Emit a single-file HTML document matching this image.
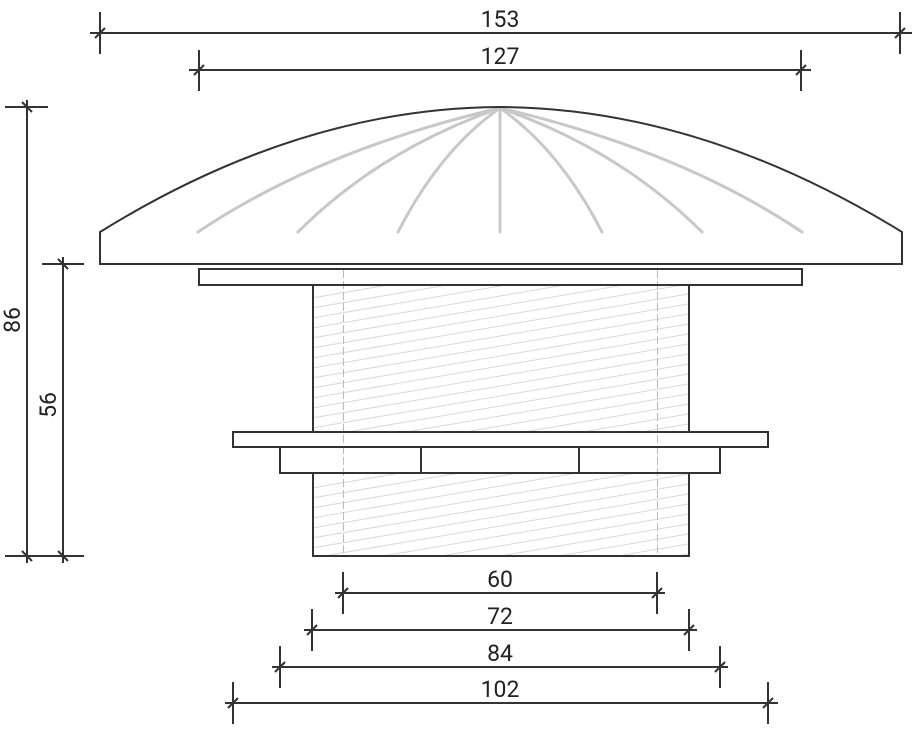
<!DOCTYPE html>
<html><head><meta charset="utf-8"><style>html,body{margin:0;padding:0;background:#fff}svg{display:block}</style></head>
<body>
<svg width="922" height="734" viewBox="0 0 922 734" xmlns="http://www.w3.org/2000/svg" font-family="Roboto, 'Liberation Sans', sans-serif">
<defs>
<clipPath id="b1"><rect x="314" y="286" width="374" height="146"/></clipPath>
<clipPath id="b2"><rect x="314" y="474" width="374" height="82"/></clipPath>
<g id="hatch">
</g>
</defs>
<g stroke="#d8d8d8" stroke-width="1" clip-path="url(#b1)">
<path d="M300 300 L700 232 M300 310 L700 242 M300 320 L700 252 M300 330 L700 262 M300 340 L700 272 M300 350 L700 282 M300 360 L700 292 M300 370 L700 302 M300 380 L700 312 M300 390 L700 322 M300 400 L700 332 M300 410 L700 342 M300 420 L700 352 M300 430 L700 362 M300 440 L700 372 M300 450 L700 382 M300 460 L700 392 M300 470 L700 402 M300 480 L700 412 M300 490 L700 422 M300 500 L700 432"/>
</g>
<g stroke="#d8d8d8" stroke-width="1" clip-path="url(#b2)">
<path d="M300 490 L700 422 M300 500 L700 432 M300 510 L700 442 M300 520 L700 452 M300 530 L700 462 M300 540 L700 472 M300 550 L700 482 M300 560 L700 492 M300 570 L700 502 M300 580 L700 512 M300 590 L700 522 M300 600 L700 532 M300 610 L700 542 M300 620 L700 552 M300 630 L700 562"/>
</g>
<g stroke="#bbb" stroke-width="1" stroke-dasharray="8,3">
<line x1="343.5" y1="270" x2="343.5" y2="556"/>
<line x1="657.5" y1="270" x2="657.5" y2="556"/>
</g>
<!-- ribs -->
<g stroke="#c8c8c8" stroke-width="3" fill="none" stroke-linecap="round">
<path d="M500 108 L500 232"/>
<path d="M500 108 Q560 150 602 232"/>
<path d="M500 108 Q620 150 702 232"/>
<path d="M500 108 Q680 150 802 232"/>
<path d="M500 108 Q440 150 398 232"/>
<path d="M500 108 Q380 150 298 232"/>
<path d="M500 108 Q320 150 198 232"/>
</g>
<g stroke="#333" stroke-width="2" fill="none">
<path d="M100 264 L100 232 Q300 108 500 107 Q700 108 902 232 L902 264 Z" fill="none"/>
<rect x="199" y="269" width="603" height="16"/>
<line x1="313" y1="285" x2="313" y2="432"/>
<line x1="689" y1="285" x2="689" y2="432"/>
<rect x="233" y="432" width="535" height="15"/>
<rect x="280" y="447" width="440" height="26"/>
<line x1="421" y1="447" x2="421" y2="473"/>
<line x1="579" y1="447" x2="579" y2="473"/>
<path d="M313 473 L313 556 L689 556 L689 473"/>
</g>
<!-- dimensions -->
<g stroke="#333" stroke-width="2" fill="none">
<line x1="90" y1="33" x2="912" y2="33"/>
<line x1="100" y1="12" x2="100" y2="54"/><line x1="95" y1="38" x2="105" y2="28"/>
<line x1="900" y1="12" x2="900" y2="54"/><line x1="895" y1="38" x2="905" y2="28"/>
<line x1="189" y1="70" x2="811" y2="70"/>
<line x1="199" y1="50" x2="199" y2="91"/><line x1="194" y1="75" x2="204" y2="65"/>
<line x1="801" y1="50" x2="801" y2="91"/><line x1="796" y1="75" x2="806" y2="65"/>
<line x1="27" y1="100" x2="27" y2="563"/>
<line x1="5" y1="107" x2="48" y2="107"/><line x1="22" y1="102" x2="32" y2="112"/>
<line x1="5" y1="556" x2="84" y2="556"/><line x1="22" y1="551" x2="32" y2="561"/>
<line x1="63" y1="257" x2="63" y2="563"/>
<line x1="42" y1="264" x2="84" y2="264"/><line x1="58" y1="259" x2="68" y2="269"/>
<line x1="58" y1="551" x2="68" y2="561"/>
<line x1="335" y1="593" x2="665" y2="593"/>
<line x1="343" y1="572" x2="343" y2="614"/><line x1="338" y1="598" x2="348" y2="588"/>
<line x1="657" y1="572" x2="657" y2="614"/><line x1="652" y1="598" x2="662" y2="588"/>
<line x1="304" y1="630" x2="697" y2="630"/>
<line x1="312" y1="609" x2="312" y2="651"/><line x1="307" y1="635" x2="317" y2="625"/>
<line x1="689" y1="609" x2="689" y2="651"/><line x1="684" y1="635" x2="694" y2="625"/>
<line x1="272" y1="667" x2="728" y2="667"/>
<line x1="280" y1="646" x2="280" y2="688"/><line x1="275" y1="672" x2="285" y2="662"/>
<line x1="720" y1="646" x2="720" y2="688"/><line x1="715" y1="672" x2="725" y2="662"/>
<line x1="225" y1="703" x2="778" y2="703"/>
<line x1="233" y1="682" x2="233" y2="724"/><line x1="228" y1="708" x2="238" y2="698"/>
<line x1="768" y1="682" x2="768" y2="724"/><line x1="763" y1="708" x2="773" y2="698"/>
</g>
<g fill="#222" font-size="23" text-anchor="middle">
<text x="500" y="27">153</text>
<text x="500" y="64">127</text>
<text x="500" y="587">60</text>
<text x="500" y="624">72</text>
<text x="500" y="661">84</text>
<text x="500" y="697">102</text>
<text transform="translate(20,320) rotate(-90)">86</text>
<text transform="translate(56,405) rotate(-90)">56</text>
</g>
</svg>
</body></html>
